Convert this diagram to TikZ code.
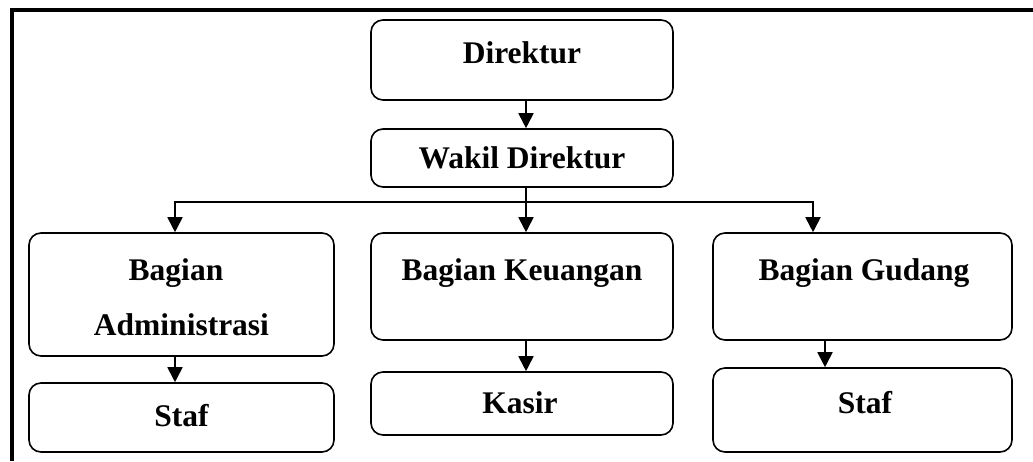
\documentclass[tikz,border=0pt]{standalone}
\usepackage{fontspec}
\setmainfont{Liberation Serif}
\usetikzlibrary{arrows.meta}
\begin{document}
\begin{tikzpicture}[x=1pt,y=-1pt,
  box/.style={draw,line width=1.6pt,rounded corners=12pt,inner sep=0pt},
  lbl/.style={font=\fontsize{31.5}{38}\selectfont\bfseries,inner sep=0pt,anchor=base},
  arr/.style={line width=1.8pt,-{Triangle[width=15pt,length=15pt]}},
  ln/.style={line width=1.8pt}]
\useasboundingbox (0,0) rectangle (1033,461);
\draw[line width=3.5pt] (12,461) -- (12,10) -- (1033,10);
% boxes
\node[box,minimum width=302pt,minimum height=80pt] (dir) at (522,60) {};
\node[box,minimum width=302pt,minimum height=58pt] (wak) at (522,158) {};
\node[box,minimum width=305pt,minimum height=123pt] (adm) at (181.5,294.5) {};
\node[box,minimum width=302pt,minimum height=107pt] (keu) at (522,286.5) {};
\node[box,minimum width=299pt,minimum height=107pt] (gud) at (862.5,286.5) {};
\node[box,minimum width=305pt,minimum height=69pt] (staf1) at (181.5,417.5) {};
\node[box,minimum width=302pt,minimum height=63pt] (kas) at (522,403.5) {};
\node[box,minimum width=299pt,minimum height=84pt] (staf2) at (862.5,410) {};
% labels
\node[lbl] (tdir) at (522,63) {Direktur};
\node[lbl] (twak) at (522,168) {Wakil Direktur};
\node[lbl] (tadm1) at (176,280) {Bagian};
\node[lbl] (tadm2) at (181.5,335) {Administrasi};
\node[lbl] (tkeu) at (522,280) {Bagian Keuangan};
\node[lbl] (tgud) at (864,280) {Bagian Gudang};
\node[lbl] (tstaf1) at (181.5,426) {Staf};
\node[lbl] (tkas) at (520,413) {Kasir};
\node[lbl] (tstaf2) at (865,413) {Staf};
% connectors
\coordinate (bus) at (526,202);
\draw[arr] ([xshift=4pt]dir.south) -- ([xshift=4pt]wak.north);
\draw[arr] ([xshift=4pt]wak.south) -- ([xshift=4pt]keu.north);
\draw[arr] (bus) -| ([xshift=-6.5pt]adm.north);
\draw[arr] (bus) -| ([xshift=-49.5pt]gud.north);
\draw[arr] ([xshift=-6.5pt]adm.south) -- ([xshift=-6.5pt]staf1.north);
\draw[arr] ([xshift=4pt]keu.south) -- ([xshift=4pt]kas.north);
\draw[arr] ([xshift=-37.5pt]gud.south) -- ([xshift=-37.5pt]staf2.north);
\end{tikzpicture}
\end{document}
